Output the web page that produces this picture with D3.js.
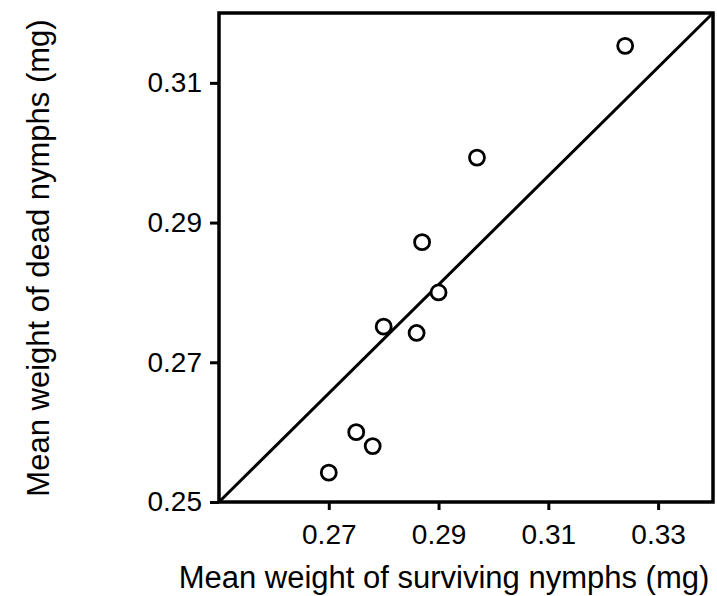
<!DOCTYPE html>
<html>
<head>
  <meta charset="utf-8">
  <title>Mean weight of dead vs surviving nymphs</title>
  <script src="https://d3js.org/d3.v7.min.js"></script>
  <style>
    html, body { margin: 0; background: #fff; overflow: hidden; }
    text { font-family: "Liberation Sans", Arial, sans-serif; fill: #000; }
  </style>
</head>
<body>
<svg id="chart" width="717" height="596"></svg>

<script>
// surviving (x) and dead (y) mean weights, mg
const surviving = [0.270, 0.275, 0.278, 0.280, 0.286, 0.287, 0.290, 0.297, 0.324];
const dead      = [0.2542, 0.2600, 0.2580, 0.2751, 0.2742, 0.2872, 0.2800, 0.2993, 0.3153];

// straight line drawn across the box, corner to corner
const lineX = [0.25, 0.34];
const lineY = [0.25, 0.32];

const xTicks = [0.27, 0.29, 0.31, 0.33];
const yTicks = [0.25, 0.27, 0.29, 0.31];

const svg = d3.select("#chart");

const x = d3.scaleLinear().domain([0.25, 0.34]).range([219, 713]);
const y = d3.scaleLinear().domain([0.25, 0.32]).range([502, 13]);

// x axis
const gx = svg.append("g")
  .attr("transform", `translate(0,${y(0.25)})`)
  .call(d3.axisBottom(x).tickValues(xTicks).tickSize(8).tickSizeOuter(0)
    .tickPadding(14).tickFormat(d3.format(".2f")));

// y axis
const gy = svg.append("g")
  .attr("transform", `translate(${x(0.25)},0)`)
  .call(d3.axisLeft(y).tickValues(yTicks).tickSize(9).tickSizeOuter(0)
    .tickPadding(8).tickFormat(d3.format(".2f")));

[gx, gy].forEach(g => {
  g.select(".domain").remove();
  g.selectAll(".tick line").attr("stroke", "#000").attr("stroke-width", 3);
  g.selectAll(".tick text").attr("font-size", 28)
    .style("font-family", '"Liberation Sans", Arial, sans-serif');
});

// frame
svg.append("rect")
  .attr("x", x(0.25)).attr("y", y(0.32))
  .attr("width", x(0.34) - x(0.25))
  .attr("height", y(0.25) - y(0.32))
  .attr("fill", "none").attr("stroke", "#000").attr("stroke-width", 3.5);

// line
svg.append("line")
  .attr("x1", x(lineX[0])).attr("y1", y(lineY[0]))
  .attr("x2", x(lineX[1])).attr("y2", y(lineY[1]))
  .attr("stroke", "#000").attr("stroke-width", 3);

// points
svg.append("g")
  .selectAll("circle")
  .data(surviving.map((s, i) => [s, dead[i]]))
  .enter().append("circle")
  .attr("cx", d => x(d[0]))
  .attr("cy", d => y(d[1]))
  .attr("r", 7.5)
  .attr("fill", "#fff")
  .attr("stroke", "#000")
  .attr("stroke-width", 2.8);

// axis titles
svg.append("text")
  .attr("x", 444).attr("y", 588)
  .attr("text-anchor", "middle")
  .attr("font-size", 31)
  .text("Mean weight of surviving nymphs (mg)");

svg.append("text")
  .attr("transform", "translate(49,258) rotate(-90)")
  .attr("text-anchor", "middle")
  .attr("font-size", 31)
  .text("Mean weight of dead nymphs (mg)");
</script>
</body>
</html>
